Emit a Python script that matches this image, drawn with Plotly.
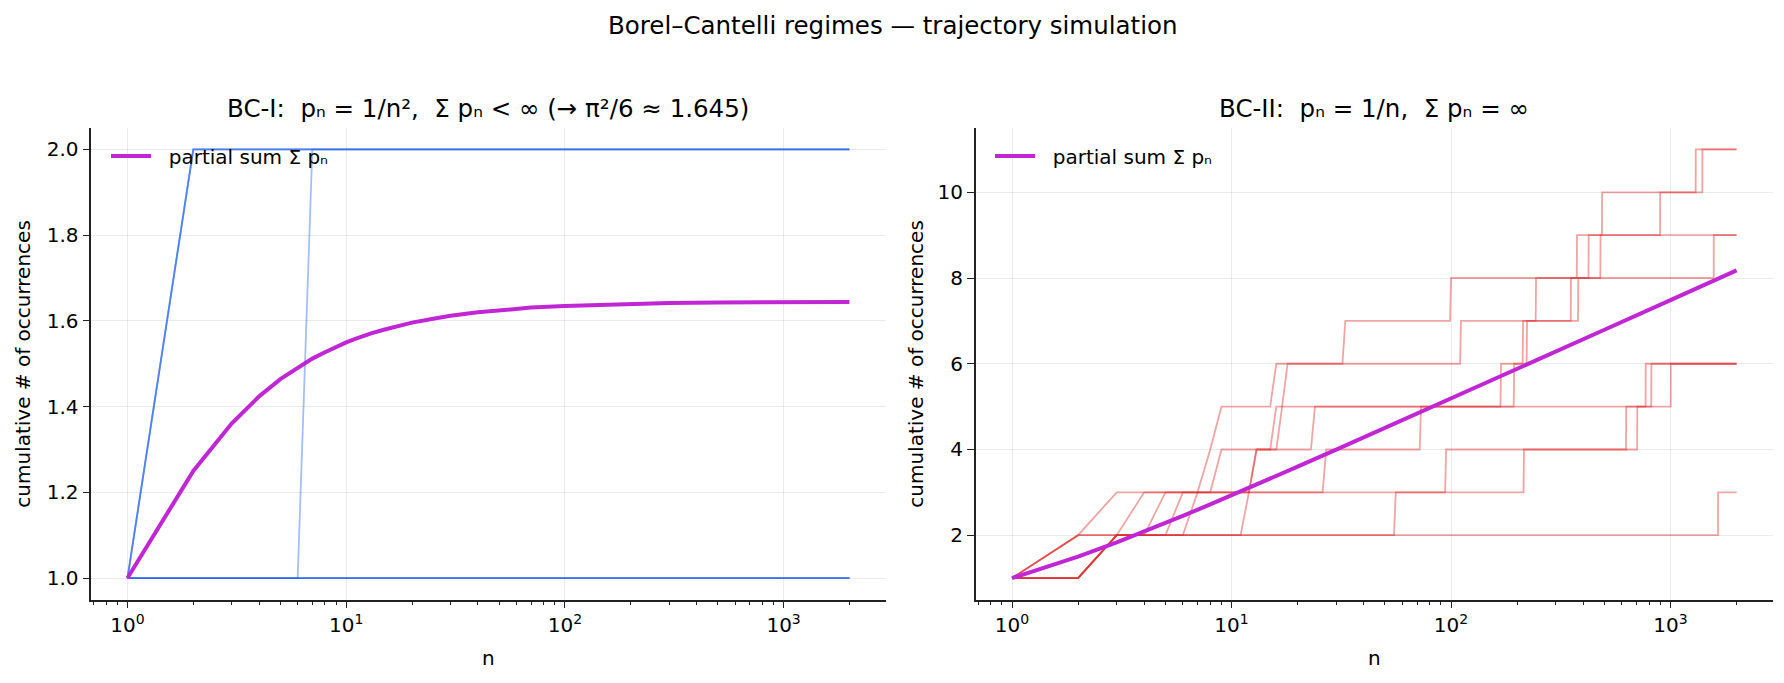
import plotly.graph_objects as go

N_MAX = 2000

# ---- BC-I (p_n = 1/n^2): occurrence times (n where count increments) per trajectory
bc1_jumps = [[2], [2], [2], [7], [], [], [], []]
# partial sum of 1/n^2
bc1_n = [1, 2, 3, 4, 5, 6, 7, 8, 9, 10, 11, 12, 13, 15, 17, 20, 25, 30, 40, 50, 70, 100,
         150, 200, 300, 500, 1000, 2000]
bc1_sum = [1.0, 1.25, 1.361, 1.424, 1.464, 1.491, 1.512, 1.527, 1.540, 1.550, 1.558, 1.565,
           1.571, 1.580, 1.588, 1.596, 1.605, 1.612, 1.620, 1.625, 1.631, 1.635,
           1.638, 1.640, 1.642, 1.643, 1.644, 1.644]

# ---- BC-II (p_n = 1/n): occurrence times per trajectory
bc2_jumps = [
    [2, 3, 8, 9, 16, 33, 100, 375, 488, 1303],
    [2, 4, 9, 16, 18, 111, 244, 424, 897, 1397],
    [2, 5, 13, 17, 169, 213, 352, 480],
    [3, 6, 13, 24, 194, 222, 380, 1574],
    [3, 7, 27, 73, 771],
    [3, 12, 95, 628, 818],
    [3, 56, 215, 706, 1003],
    [3, 1647],
]
bc2_n = [1, 2, 3, 4, 5, 6, 8, 10, 15, 20, 30, 50, 100, 200, 500, 1000, 2000]
bc2_sum = [1.0, 1.5, 1.833, 2.083, 2.283, 2.45, 2.718, 2.929, 3.318, 3.598, 3.995,
           4.499, 5.187, 5.878, 6.793, 7.485, 8.178]

major_vals = [1, 10, 100, 1000]
major_text = ["10<sup>0</sup>", "10<sup>1</sup>", "10<sup>2</sup>", "10<sup>3</sup>"]
minor_vals = [0.7, 0.8, 0.9, 2, 3, 4, 5, 6, 7, 8, 9, 20, 30, 40, 50, 60, 70, 80, 90,
              200, 300, 400, 500, 600, 700, 800, 900, 2000]

BLUE = "rgba(37,99,235,0.42)"
RED = "rgba(220,38,38,0.42)"
PURPLE = "#c026d3"
FONT = "DejaVu Sans"
TICK_SIZE = 20
TITLE_SIZE = 24.5
LEGEND_NAME = "\u00a0\u00a0partial sum Σ pₙ"


def path(jumps, n_max):
    xs, ys, v = [1], [1], 1
    for t in jumps:
        xs += [t - 1, t]
        ys += [v, v + 1]
        v += 1
    xs.append(n_max)
    ys.append(v)
    return xs, ys


fig = go.Figure()

for j in bc1_jumps:
    xs, ys = path(j, N_MAX)
    fig.add_trace(go.Scatter(x=xs, y=ys, mode="lines", line=dict(color=BLUE, width=1.8),
                             showlegend=False, hoverinfo="skip", xaxis="x", yaxis="y"))
fig.add_trace(go.Scatter(x=bc1_n, y=bc1_sum, mode="lines", line=dict(color=PURPLE, width=4),
                         name=LEGEND_NAME, legend="legend", xaxis="x", yaxis="y"))

for j in bc2_jumps:
    xs, ys = path(j, N_MAX)
    fig.add_trace(go.Scatter(x=xs, y=ys, mode="lines", line=dict(color=RED, width=1.8),
                             showlegend=False, hoverinfo="skip", xaxis="x2", yaxis="y2"))
fig.add_trace(go.Scatter(x=bc2_n, y=bc2_sum, mode="lines", line=dict(color=PURPLE, width=4),
                         name=LEGEND_NAME, legend="legend2", xaxis="x2", yaxis="y2"))

W, H = 1784, 683
ydom = [(H - 599.5) / H, (H - 128) / H]
xdom1 = [91.4 / W, 885.5 / W]
xdom2 = [975.8 / W, 1772.8 / W]

tickfont = dict(family=FONT, size=TICK_SIZE, color="#000")
common_x = dict(type="log", range=[-0.165, 3.466], tickmode="array", tickvals=major_vals,
                ticktext=major_text, ticks="outside", ticklen=7, tickwidth=1.4,
                tickcolor="#222", showline=True, linecolor="#222", linewidth=1.6,
                showgrid=True, gridcolor="rgba(0,0,0,0.08)", gridwidth=1.4, zeroline=False,
                tickfont=tickfont,
                minor=dict(tickmode="array", tickvals=minor_vals, ticks="outside", ticklen=4,
                           tickwidth=1.1, tickcolor="#222", showgrid=False))
common_y = dict(ticks="outside", ticklen=7, tickwidth=1.4, tickcolor="#222", showline=True,
                linecolor="#222", linewidth=1.6, showgrid=True, gridcolor="rgba(0,0,0,0.08)",
                gridwidth=1.4, zeroline=False, tickfont=tickfont)

fig.update_layout(
    width=W, height=H, margin=dict(l=0, r=0, t=0, b=0),
    plot_bgcolor="white", paper_bgcolor="white",
    font=dict(family=FONT, color="#000"),
    xaxis=dict(domain=xdom1, anchor="y", **common_x),
    yaxis=dict(domain=ydom, anchor="x", range=[0.95, 2.05], tickvals=[1.0, 1.2, 1.4, 1.6, 1.8, 2.0],
               tickformat=".1f", **common_y),
    xaxis2=dict(domain=xdom2, anchor="y2", **common_x),
    yaxis2=dict(domain=ydom, anchor="x2", range=[0.5, 11.5], tickvals=[2, 4, 6, 8, 10], **common_y),
    legend=dict(x=106 / W, y=1 - 156 / H, xanchor="left", yanchor="middle", bgcolor="rgba(0,0,0,0)",
                font=dict(family=FONT, size=TICK_SIZE), itemwidth=40),
    legend2=dict(x=990 / W, y=1 - 156 / H, xanchor="left", yanchor="middle", bgcolor="rgba(0,0,0,0)",
                 font=dict(family=FONT, size=TICK_SIZE), itemwidth=40),
    annotations=[
        dict(text="Borel–Cantelli regimes — trajectory simulation", x=0.5, y=1 - 25 / H,
             xref="paper", yref="paper", showarrow=False, font=dict(family=FONT, size=TITLE_SIZE),
             xanchor="center", yanchor="middle"),
        dict(text="BC-I:  pₙ = 1/n²,  Σ pₙ < ∞ (→ π²/6 ≈ 1.645)", x=(xdom1[0] + xdom1[1]) / 2,
             y=1 - 108 / H, xref="paper", yref="paper", showarrow=False,
             font=dict(family=FONT, size=TITLE_SIZE), xanchor="center", yanchor="middle"),
        dict(text="BC-II:  pₙ = 1/n,  Σ pₙ = ∞", x=(xdom2[0] + xdom2[1]) / 2,
             y=1 - 108 / H, xref="paper", yref="paper", showarrow=False,
             font=dict(family=FONT, size=TITLE_SIZE), xanchor="center", yanchor="middle"),
        dict(text="n", x=(xdom1[0] + xdom1[1]) / 2, y=1 - 658 / H, xref="paper", yref="paper",
             showarrow=False, font=dict(family=FONT, size=TICK_SIZE), xanchor="center", yanchor="middle"),
        dict(text="n", x=(xdom2[0] + xdom2[1]) / 2, y=1 - 658 / H, xref="paper", yref="paper",
             showarrow=False, font=dict(family=FONT, size=TICK_SIZE), xanchor="center", yanchor="middle"),
        dict(text="cumulative # of occurrences", x=23 / W, y=(ydom[0] + ydom[1]) / 2, xref="paper",
             yref="paper", showarrow=False, textangle=-90, font=dict(family=FONT, size=TICK_SIZE),
             xanchor="center", yanchor="middle"),
        dict(text="cumulative # of occurrences", x=916 / W, y=(ydom[0] + ydom[1]) / 2, xref="paper",
             yref="paper", showarrow=False, textangle=-90, font=dict(family=FONT, size=TICK_SIZE),
             xanchor="center", yanchor="middle"),
    ],
)

fig.write_html("out.html")
